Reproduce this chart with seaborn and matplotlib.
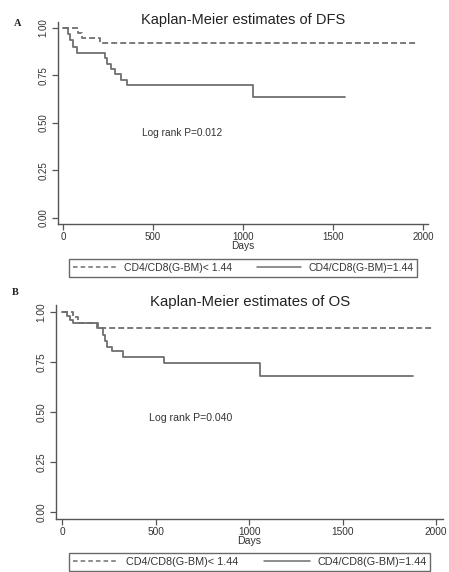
import numpy as np
import pandas as pd
import matplotlib
matplotlib.use("Agg")
import matplotlib.pyplot as plt
from matplotlib.lines import Line2D
import seaborn as sns

sns.set_style("ticks")
plt.rcParams["font.family"] = ["Liberation Sans", "DejaVu Sans"]

# Kaplan-Meier step estimates (day of change, survival probability after it)
dfs_low_days = [0, 81, 104, 206, 1972]
dfs_low_surv = [1.0, 0.973, 0.946, 0.919, 0.919]
dfs_high_days = [0, 26, 39, 57, 76, 233, 246, 265, 289, 322, 354, 1054, 1567]
dfs_high_surv = [1.0, 0.967, 0.933, 0.900, 0.867, 0.839, 0.811, 0.783, 0.754,
                 0.726, 0.698, 0.638, 0.638]

os_low_days = [0, 61, 88, 195, 1990]
os_low_surv = [1.0, 0.973, 0.946, 0.919, 0.919]
os_high_days = [0, 25, 43, 60, 185, 221, 230, 239, 266, 328, 547, 1059, 1879]
os_high_surv = [1.0, 0.981, 0.962, 0.943, 0.918, 0.885, 0.855, 0.827, 0.807,
                0.777, 0.745, 0.680, 0.680]

group_labels = ["CD4/CD8(G-BM)< 1.44", "CD4/CD8(G-BM)=1.44"]
x_ticks = [0, 500, 1000, 1500, 2000]
y_ticks = [0.0, 0.25, 0.5, 0.75, 1.0]
y_ticklabels = ["0.00", "0.25", "0.50", "0.75", "1.00"]

LINE = "#6f6f6f"
AXC = "#555555"
TXT = "#333333"
DASH = (0, (3.3, 1.7))


def make_frame(low_d, low_s, high_d, high_s):
    return pd.concat([
        pd.DataFrame({"days": low_d, "surv": low_s, "group": group_labels[0]}),
        pd.DataFrame({"days": high_d, "surv": high_s, "group": group_labels[1]}),
    ], ignore_index=True)


def km_panel(ax, df, ptext, ptext_xy, xlim, ylim, fs):
    for grp, ls in zip(group_labels, [DASH, "-"]):
        sub = df[df["group"] == grp]
        sns.lineplot(data=sub, x="days", y="surv", ax=ax, color=LINE,
                     linewidth=1.3, linestyle=ls, drawstyle="steps-post",
                     estimator=None, sort=False, legend=False)
    ax.set_xlim(*xlim)
    ax.set_ylim(*ylim)
    ax.set_xticks(x_ticks)
    ax.set_xticklabels([str(t) for t in x_ticks])
    ax.set_yticks(y_ticks)
    ax.set_yticklabels(y_ticklabels, rotation=90, va="center")
    ax.tick_params(axis="both", labelsize=fs, colors=AXC, labelcolor=TXT,
                   length=4, width=0.9, pad=2)
    ax.tick_params(axis="y", pad=3)
    for s in ["top", "right"]:
        ax.spines[s].set_visible(False)
    for s in ["left", "bottom"]:
        ax.spines[s].set_color(AXC)
        ax.spines[s].set_linewidth(1.0)
    ax.set_xlabel("Days", fontsize=fs + 0.3, color=TXT, labelpad=-1)
    ax.set_ylabel("")
    ax.text(ptext_xy[0], ptext_xy[1], ptext, fontsize=fs + 0.3, color=TXT,
            ha="left", va="center")


fig = plt.figure(figsize=(4.49, 5.72), dpi=100)
fig.patch.set_facecolor("white")

ax1 = fig.add_axes([58 / 449, 1 - 224 / 572, 370 / 449, 202 / 572])
km_panel(ax1, make_frame(dfs_low_days, dfs_low_surv, dfs_high_days, dfs_high_surv),
         "Log rank P=0.012", (439, 0.447), (-28, 2028), (-0.032, 1.03), 7.0)

ax2 = fig.add_axes([56 / 449, 1 - 519 / 572, 387 / 449, 214 / 572])
km_panel(ax2, make_frame(os_low_days, os_low_surv, os_high_days, os_high_surv),
         "Log rank P=0.040", (465, 0.468), (-32, 2037), (-0.035, 1.035), 7.3)

fig.text(243 / 449, 1 - 20 / 572, "Kaplan-Meier estimates of DFS",
         fontsize=10.5, color="#222222", ha="center", va="center")
fig.text(250 / 449, 1 - 302 / 572, "Kaplan-Meier estimates of OS",
         fontsize=10.8, color="#222222", ha="center", va="center")

handles = [Line2D([], [], color=LINE, lw=1.1, linestyle=(0, (3, 2))),
           Line2D([], [], color=LINE, lw=1.1, linestyle="-")]

for (cx, cy), fs in [((243 / 449, 1 - 268 / 572), 7.5), ((249.5 / 449, 1 - 562 / 572), 7.8)]:
    leg = fig.legend(handles, group_labels, loc="center", bbox_to_anchor=(cx, cy),
                     ncol=2, fontsize=fs, frameon=True, fancybox=False,
                     handlelength=4.2, handletextpad=0.7, columnspacing=2.4,
                     borderpad=0.35, borderaxespad=0)
    leg.get_frame().set_edgecolor("#444444")
    leg.get_frame().set_linewidth(1.0)
    for t in leg.get_texts():
        t.set_color(TXT)

fig.text(18 / 449, 1 - 23 / 572, "A", family=["Liberation Serif", "DejaVu Serif"],
         fontweight="bold", fontsize=7.5, ha="center", va="center", color="#222222")
fig.text(15 / 449, 1 - 293 / 572, "B", family=["Liberation Serif", "DejaVu Serif"],
         fontweight="bold", fontsize=7.5, ha="center", va="center", color="#222222")

fig.savefig("out.png", dpi=100, facecolor="white")
